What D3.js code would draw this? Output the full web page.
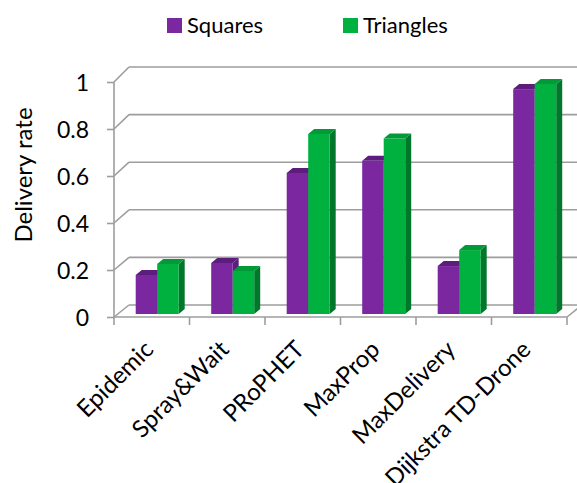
<!DOCTYPE html>
<html><head><meta charset="utf-8">
<script src="https://cdn.jsdelivr.net/npm/d3@7"></script>
<style>body{margin:0;background:#fff}svg{display:block}</style>
</head><body>
<script>
const categories = ["Epidemic","Spray&Wait","PRoPHET","MaxProp","MaxDelivery","Dijkstra TD-Drone"];
const squares   = [0.166, 0.217, 0.600, 0.652, 0.204, 0.957];
const triangles = [0.213, 0.183, 0.766, 0.747, 0.272, 0.979];
const yTicks = [0, 0.2, 0.4, 0.6, 0.8, 1];
const yTickLabels = ["0","0.2","0.4","0.6","0.8","1"];
const seriesNames = ["Squares","Triangles"];

const W = 577, H = 483;
const font = "Lato, 'Open Sans', sans-serif";
const svg = d3.select("body").append("svg").attr("width", W).attr("height", H);

const x = d3.scaleBand().domain(categories).range([114, 567]);
const yFront = d3.scaleLinear().domain([0,1]).range([317, 82]);
const yBack = d3.scaleLinear().domain([0,1]).range([305, 67]);
const DX = 15;
const grid = "#9d9d9d";
const cPurple = "#7b28a0", cPurpleTop = "#5d1d7c";
const cGreen = "#00b140", cGreenTop = "#029a38", cGreenSide = "#00772a";

// back wall gridlines and left-wall connectors
yTicks.forEach(t => {
  svg.append("line").attr("x1", 114 + DX).attr("x2", W + 5)
    .attr("y1", yBack(t)).attr("y2", yBack(t))
    .attr("stroke", grid).attr("stroke-width", 1.6);
  svg.append("line").attr("x1", 114).attr("x2", 114 + DX)
    .attr("y1", yFront(t)).attr("y2", yBack(t))
    .attr("stroke", grid).attr("stroke-width", 1.6);
});
// left vertical axis line (front)
svg.append("line").attr("x1", 114).attr("x2", 114).attr("y1", yFront(1)).attr("y2", yFront(0))
  .attr("stroke", grid).attr("stroke-width", 1.6);
// floor front line and right connector
svg.append("line").attr("x1", 114).attr("x2", 567).attr("y1", yFront(0)).attr("y2", yFront(0))
  .attr("stroke", grid).attr("stroke-width", 1.6);
svg.append("line").attr("x1", 567).attr("x2", 567 + DX).attr("y1", yFront(0)).attr("y2", yBack(0))
  .attr("stroke", grid).attr("stroke-width", 1.6);

// y axis ticks & labels
const yAxis = d3.axisLeft(yFront).tickValues(yTicks).tickSize(7)
  .tickFormat((d,i) => yTickLabels[i]);
const gy = svg.append("g").attr("transform", "translate(114,0)").call(yAxis);
gy.select(".domain").remove();
gy.selectAll(".tick line").attr("stroke", grid).attr("stroke-width", 1.6);
gy.selectAll(".tick text").attr("x", -25).attr("dy", "0.36em")
  .attr("font-family", font).attr("font-size", 23).attr("fill", "#000");

// x ticks at band boundaries
const bounds = categories.map(c => x(c)).concat([x.range()[1]]);
svg.selectAll(".xt").data(bounds).enter().append("line")
  .attr("x1", d => d).attr("x2", d => d).attr("y1", yFront(0)).attr("y2", yFront(0) + 8)
  .attr("stroke", grid).attr("stroke-width", 1.6);

// bars
const bw = 21.5, bdx = 6, bdy = -5, bOffX = 21.7, bOffY = -3;
const series = [
  {vals: squares, front: cPurple, top: cPurpleTop, side: cPurpleTop, off: 0},
  {vals: triangles, front: cGreen, top: cGreenTop, side: cGreenSide, off: bw}
];
categories.forEach((c, i) => {
  series.forEach(s => {
    const x0 = x(c) + bOffX + s.off, x1 = x0 + bw;
    const yb = yFront(0) + bOffY, yt = yFront(s.vals[i]) + bOffY;
    const g = svg.append("g");
    g.append("path").attr("d", `M${x1},${yb}L${x1+bdx},${yb+bdy}L${x1+bdx},${yt+bdy}L${x1},${yt}Z`).attr("fill", s.side);
    g.append("path").attr("d", `M${x0},${yt}L${x0+bdx},${yt+bdy}L${x1+bdx},${yt+bdy}L${x1},${yt}Z`).attr("fill", s.top);
    g.append("rect").attr("x", x0).attr("y", yt).attr("width", bw).attr("height", yb - yt).attr("fill", s.front);
  });
});

// x labels
categories.forEach(c => {
  const cx = x(c) + x.bandwidth()/2 + 3;
  svg.append("text").attr("transform", `translate(${cx},${351}) rotate(-45)`)
    .attr("text-anchor", "end").attr("font-family", font).attr("font-size", 24)
    .attr("fill", "#000").text(c);
});

// y title
svg.append("text").attr("transform", "translate(32,175) rotate(-90)")
  .attr("text-anchor", "middle").attr("font-family", font).attr("font-size", 24)
  .attr("fill", "#000").text("Delivery rate");

// legend
const leg = [{n: seriesNames[0], c: cPurple, x: 167}, {n: seriesNames[1], c: cGreen, x: 343}];
leg.forEach(l => {
  svg.append("rect").attr("x", l.x).attr("y", 18).attr("width", 15).attr("height", 15).attr("fill", l.c);
  svg.append("text").attr("x", l.x + 20).attr("y", 33).attr("font-family", font).attr("font-size", 22)
    .attr("fill", "#000").text(l.n);
});
</script>
</body></html>
